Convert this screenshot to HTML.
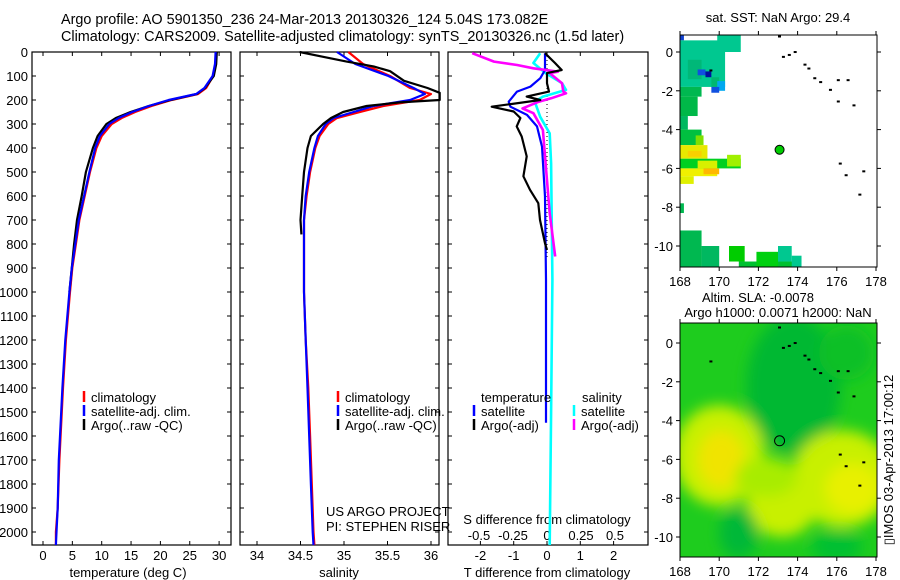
<!DOCTYPE html>
<html><head><meta charset="utf-8">
<style>
html,body{margin:0;padding:0;background:#fff;}
svg{display:block;font-family:"Liberation Sans",sans-serif;font-size:13px;}
</style></head>
<body>
<svg id="fig" width="900" height="580" viewBox="0 0 900 580" xmlns="http://www.w3.org/2000/svg">
<text x="61" y="24" font-size="14.4">Argo profile: AO 5901350_236 24-Mar-2013 20130326_124 5.04S 173.082E</text>
<text x="61" y="41" font-size="14.4">Climatology: CARS2009. Satellite-adjusted climatology: synTS_20130326.nc (1.5d later)</text>
<text x="778" y="22" text-anchor="middle">sat. SST: NaN Argo: 29.4</text>
<text x="758" y="302" text-anchor="middle">Altim. SLA: -0.0078</text>
<text x="778" y="317" text-anchor="middle">Argo h1000: 0.0071 h2000: NaN</text>
<text transform="translate(893,460) rotate(-90)" text-anchor="middle">▯IMOS 03-Apr-2013 17:00:12</text>
</svg>
<script>
// ---------- data ----------
const depthTicks=[0,100,200,300,400,500,600,700,800,900,1000,1100,1200,1300,1400,1500,1600,1700,1800,1900,2000];
const tempTicks=[0,5,10,15,20,25,30];
const salTicks=[34,34.5,35,35.5,36];
const tdiffTicks=[-2,-1,0,1,2];
const sdiffTicks=[-0.5,-0.25,0,0.25,0.5];
const sdiffTickLabels=["-0.5","-0.25","0","0.25","0.5"];

const tDepth=[0,50,100,150,175,200,225,250,275,300,350,400,500,600,700,800,900,1000,1200,1400,1500,1700,1900,2000,2054];
const tClim=[29.5,29.4,29.0,27.8,26.4,21.9,18.5,15.7,13.4,11.7,10.0,9.1,8.0,7.1,6.2,5.6,5.0,4.6,3.9,3.4,3.2,2.8,2.5,2.2,2.2];
const tSat =[29.4,29.3,28.9,27.5,26.1,21.4,18.0,15.2,12.9,11.3,9.7,8.9,7.9,7.0,6.1,5.5,4.9,4.5,3.8,3.3,3.1,2.7,2.5,2.3,2.2];
const tArgoDepth=[0,50,100,150,175,200,225,250,275,300,350,400,500,600,700,800,900,1000];
const tArgo=[29.6,29.5,29.1,27.6,26.2,21.7,18.0,14.9,12.4,10.8,9.3,8.5,7.3,6.6,5.8,5.3,4.9,4.5];

const sDepth=[0,50,100,150,175,200,225,250,275,300,350,400,500,600,700,800,1000,1200,1400,1600,1800,2000,2054];
const sClim=[35.05,35.22,35.53,35.76,36.0,35.87,35.45,35.18,34.92,34.82,34.72,34.67,34.61,34.57,34.54,34.54,34.54,34.56,34.59,34.61,34.63,34.65,34.66];
const sSat =[34.92,35.13,35.51,35.80,35.93,35.76,35.34,35.11,34.88,34.79,34.70,34.66,34.60,34.56,34.54,34.54,34.54,34.56,34.58,34.60,34.62,34.64,34.65];
const sArgoDepth=[0,20,40,60,80,120,150,170,200,210,225,250,275,300,350,400,500,600,700,760];
const sArgo=[34.49,34.76,35.03,35.34,35.53,35.69,35.96,36.1,36.1,35.64,35.26,34.99,34.85,34.76,34.62,34.58,34.54,34.52,34.50,34.51];

const dTArgoDepth=[5,46,75,88,130,165,186,200,228,248,275,310,352,435,518,574,630,700,797,825];
const dTArgo=[-0.06,0.24,0.44,0.0,0.0,0.06,-0.61,-0.2,-1.66,-1.0,-0.8,-0.91,-0.76,-0.61,-0.71,-0.51,-0.26,-0.21,-0.06,0.0];
const dTSatDepth=[5,75,109,144,165,207,228,262,310,394,602,950,1545];
const dTSat=[-0.06,-0.06,-0.2,-0.5,-0.9,-1.15,-1.1,-0.6,-0.3,-0.15,-0.06,-0.03,-0.03];
const dSArgoDepth=[5,40,54,68,82,88,130,165,172,193,207,235,255,325,464,672,852];
const dSArgo=[-0.55,-0.39,-0.22,-0.1,0.08,0.02,0.11,0.12,0.14,0.03,-0.06,-0.18,-0.1,-0.03,-0.01,0.02,0.06];
const dSSatDepth=[5,46,88,130,158,186,207,270,339,464,950,1500,2054];
const dSSat=[-0.05,-0.10,-0.01,0.11,0.14,-0.03,-0.09,-0.05,0.02,0.03,0.04,0.03,0.02];

const lonTicks=[168,170,172,174,176,178];
const latTicks=[0,-2,-4,-6,-8,-10];
const sstCells=[
[168,168.2,0.9,0.6,"#1040d0"],[168,170.3,0.6,-1.8,"#00c890"],[169.9,171.1,0.9,0.0,"#00c890"],
[168.4,169.1,-0.4,-1.4,"#00b878"],[168.9,169.3,-0.9,-1.2,"#1050e0"],[169.3,169.6,-1.0,-1.3,"#0010a0"],
[169.6,170.0,-1.3,-1.8,"#00b870"],[169.9,170.3,-1.5,-2.0,"#00a8f0"],[169.6,170.0,-1.8,-2.1,"#1050e0"],
[168,169.1,-1.8,-2.3,"#00b850"],[168,168.9,-2.3,-3.3,"#00b848"],[168,168.4,-3.3,-4.0,"#00b860"],
[168,169.1,-4.0,-4.8,"#00c040"],[168.8,169.2,-4.3,-4.8,"#80e000"],[168,169.4,-4.8,-5.5,"#e8e800"],
[168.4,169.1,-5.1,-5.4,"#f8d000"],[168,171.1,-5.5,-6.0,"#00d020"],[168.9,169.9,-5.6,-6.0,"#d8f000"],
[170.4,171.1,-5.3,-5.9,"#a0f000"],[168,169.9,-6.0,-6.4,"#f0f000"],[169.2,170.0,-6.0,-6.3,"#ffb800"],
[168,168.7,-6.4,-6.8,"#e0f000"],[168,168.2,-7.8,-8.3,"#00b850"],[168,169.1,-9.2,-11.1,"#00b850"],
[169.1,170.0,-10.0,-11.1,"#00b860"],[170.5,171.3,-10.0,-10.8,"#00cc00"],[171.0,174.0,-10.8,-11.1,"#00c030"],
[171.9,173.0,-10.3,-11.1,"#00d010"],[173.0,173.7,-10.0,-10.8,"#00c890"],[173.7,174.2,-10.5,-11.1,"#00c890"]];
const islands=[[173.2,-0.2],[173.5,-0.1],[173.8,0.05],[174.3,-0.6],[174.5,-0.8],[174.8,-1.3],[175.1,-1.5],[175.6,-1.9],[176.0,-1.4],[176.5,-1.4],[176.0,-2.5],[176.8,-2.7],[176.1,-5.7],[176.4,-6.3],[177.3,-6.1],[177.1,-7.3],[173.0,0.85],[169.5,-0.9]];
const slaBlobs=[
[173.8,-2.2,2.4,3.6,"#00b830"],
[170.0,-5.8,2.3,2.6,"#c8f000"],[170.1,-6.0,1.2,1.5,"#f0e400"],[176.3,-7.0,2.6,2.5,"#c8f000"],[176.8,-7.5,1.4,1.3,"#e8f000"],
[173.2,-8.3,1.8,1.7,"#c8f000"],[172.4,-6.9,1.6,1.0,"#a8ec00"],[171.0,-9.8,1.0,1.3,"#00b838"],
[176.0,-10.5,1.3,0.8,"#00c030"],[176.5,-0.5,1.4,1.4,"#10c028"]];

// ---------- helpers ----------
const NS="http://www.w3.org/2000/svg";
const svg=document.getElementById('fig');
function mk(tag,attrs,parent){const e=document.createElementNS(NS,tag);for(const k in attrs)e.setAttribute(k,attrs[k]);(parent||svg).appendChild(e);return e;}
const yD=d=>52+d*0.24;
const xT=t=>43+t*5.87;
const xS=s=>257+(s-34)*87;
const xDT=d=>547+d*33.3;
const xDS=d=>547+d*136;
const xLon=l=>680+(l-168)*19.6;
const yLat1=l=>52-l*19.4;
const yLat2=l=>343-l*19.4;
function line(xs,ys,xf,yf,color,name,w){
  const pts=xs.map((v,i)=>xf(v).toFixed(1)+","+yf(ys[i]).toFixed(1)).join(" ");
  const p=mk('polyline',{points:pts,fill:"none",stroke:color,"stroke-width":w||2.2,"stroke-linejoin":"round"});
  
  
  return p;
}
function txt(x,y,s,anchor){const t=mk('text',{x:x,y:y,"text-anchor":anchor||"start"});t.textContent=s;return t;}

// ---------- panel frames ----------
const panels=[[32,231,"temperature-panel"],[240,439,"salinity-panel"],[448,648,"difference-panel"]];
panels.forEach(p=>{
  const r=mk('rect',{x:p[0],y:52,width:p[1]-p[0],height:493,fill:"none",stroke:"#000","stroke-width":1.2});
  
  
  depthTicks.forEach(d=>{
    mk('line',{x1:p[0],x2:p[0]+4,y1:yD(d),y2:yD(d),stroke:"#000"});
    mk('line',{x1:p[1]-4,x2:p[1],y1:yD(d),y2:yD(d),stroke:"#000"});
  });
});
depthTicks.forEach(d=>{
  const t=txt(28,yD(d)+5,String(d),"end");
  
  
});
tempTicks.forEach(v=>{
  mk('line',{x1:xT(v),x2:xT(v),y1:545,y2:541,stroke:"#000"});
  mk('line',{x1:xT(v),x2:xT(v),y1:52,y2:56,stroke:"#000"});
  const t=txt(xT(v),560,String(v),"middle");
  
  
});
salTicks.forEach(v=>{
  mk('line',{x1:xS(v),x2:xS(v),y1:545,y2:541,stroke:"#000"});
  mk('line',{x1:xS(v),x2:xS(v),y1:52,y2:56,stroke:"#000"});
  const t=txt(xS(v),560,String(v),"middle");
  
  
});
tdiffTicks.forEach(v=>{
  mk('line',{x1:xDT(v),x2:xDT(v),y1:545,y2:541,stroke:"#000"});
  mk('line',{x1:xDT(v),x2:xDT(v),y1:52,y2:56,stroke:"#000"});
  const t=txt(xDT(v),560,String(v),"middle");
  
  
});
sdiffTicks.forEach((v,i)=>{
  const t=txt(xDS(v),540,sdiffTickLabels[i],"middle");
  
  
});
let a=txt(128,577,"temperature (deg C)","middle");
a=txt(339,577,"salinity","middle");
a=txt(547,577,"T difference from climatology","middle");
a=txt(547,524,"S difference from climatology","middle");
a=txt(326,516,"US ARGO PROJECT");
a=txt(326,531,"PI: STEPHEN RISER");
a=mk('line',{x1:547,x2:547,y1:52,y2:260,stroke:"#000","stroke-dasharray":"1,3"});


// ---------- profile lines ----------
line(tClim,tDepth,xT,yD,"#ff0000","temp-climatology-line");
line(tArgo,tArgoDepth,xT,yD,"#000000","temp-argo-line");
line(tSat,tDepth,xT,yD,"#0000ff","temp-satellite-line");
line(sClim,sDepth,xS,yD,"#ff0000","sal-climatology-line");
line(sSat,sDepth,xS,yD,"#0000ff","sal-satellite-line");
line(sArgo,sArgoDepth,xS,yD,"#000000","sal-argo-line");
line(dSSat,dSSatDepth,xDS,yD,"#00ffff","sdiff-satellite-line",2.6);
line(dTSat,dTSatDepth,xDT,yD,"#0000ff","tdiff-satellite-line");
line(dSArgo,dSArgoDepth,xDS,yD,"#ff00ff","sdiff-argo-line",2.6);
line(dTArgo,dTArgoDepth,xDT,yD,"#000000","tdiff-argo-line");

// ---------- legends ----------
function legend(x,y,color,label,name){
  const g=mk('g',{});
  
  
  mk('line',{x1:x,x2:x,y1:y-11,y2:y,stroke:color,"stroke-width":2.5},g);
  const t=mk('text',{x:x+7,y:y},g);t.textContent=label;
}
legend(84,402,"#ff0000","climatology","legend-climatology");
legend(84,416,"#0000ff","satellite-adj. clim.","legend-satellite-adj");
legend(84,430,"#000000","Argo(..raw -QC)","legend-argo");
legend(338,402,"#ff0000","climatology","legend-climatology-sal");
legend(338,416,"#0000ff","satellite-adj. clim.","legend-satellite-adj-sal");
legend(338,430,"#000000","Argo(..raw -QC)","legend-argo-sal");
a=txt(481,402,"temperature");
a=txt(582,402,"salinity");
legend(474,416,"#0000ff","satellite","legend-tdiff-satellite");
legend(474,430,"#000000","Argo(-adj)","legend-tdiff-argo");
legend(574,416,"#00ffff","satellite","legend-sdiff-satellite");
legend(574,430,"#ff00ff","Argo(-adj)","legend-sdiff-argo");

// ---------- maps ----------
function mapFrame(yLat,top,bottom,name){
  const r=mk('rect',{x:680,y:top,width:197,height:bottom-top,fill:"none",stroke:"#000"});
  
  
  lonTicks.forEach(l=>{
    mk('line',{x1:xLon(l),x2:xLon(l),y1:bottom,y2:bottom+4,stroke:"#000"});
    mk('line',{x1:xLon(l),x2:xLon(l),y1:top-4,y2:top,stroke:"#000"});
    const t=txt(xLon(l),bottom+19,String(l),"middle");
    
    
  });
  latTicks.forEach(l=>{
    mk('line',{x1:676,x2:680,y1:yLat(l),y2:yLat(l),stroke:"#000"});
    mk('line',{x1:877,x2:881,y1:yLat(l),y2:yLat(l),stroke:"#000"});
    const t=txt(673,yLat(l)+5,String(l),"end");
    
    
  });
}
const sstG=mk('g',{});


sstCells.forEach(c=>{
  const r=mk('rect',{x:xLon(c[0]),y:yLat1(c[2]),width:xLon(c[1])-xLon(c[0]),height:yLat1(c[3])-yLat1(c[2]),fill:c[4]},sstG);
  
  
});
islands.forEach(p=>mk('rect',{x:xLon(p[0]),y:yLat1(p[1]),width:3,height:2,fill:"#000"},sstG));
a=mk('circle',{cx:xLon(173.08),cy:yLat1(-5.04),r:4.5,fill:"#00cc00",stroke:"#000"});

mapFrame(yLat1,35,267,"sst-map-frame");

const defs=mk('defs',{});
const f=mk('filter',{id:"blur",x:"-50%",y:"-50%",width:"200%",height:"200%"},defs);
mk('feGaussianBlur',{stdDeviation:"7"},f);
const cp=mk('clipPath',{id:"clip2"},defs);
mk('rect',{x:680,y:323,width:197,height:234},cp);
const slaG=mk('g',{"clip-path":"url(#clip2)"});


mk('rect',{x:680,y:323,width:197,height:234,fill:"#1ecc1e"},slaG);
const blobG=mk('g',{filter:"url(#blur)"},slaG);
slaBlobs.forEach(b=>{
  const e=mk('ellipse',{cx:xLon(b[0]),cy:yLat2(b[1]),rx:b[2]*19.6,ry:b[3]*19.4,fill:b[4]},blobG);
  
  
});
islands.forEach(p=>mk('rect',{x:xLon(p[0]),y:yLat2(p[1]),width:3,height:2,fill:"#000"},slaG));
a=mk('circle',{cx:xLon(173.08),cy:yLat2(-5.04),r:5,fill:"none",stroke:"#000"});

mapFrame(yLat2,323,557,"sla-map-frame");
</script>
</body></html>
